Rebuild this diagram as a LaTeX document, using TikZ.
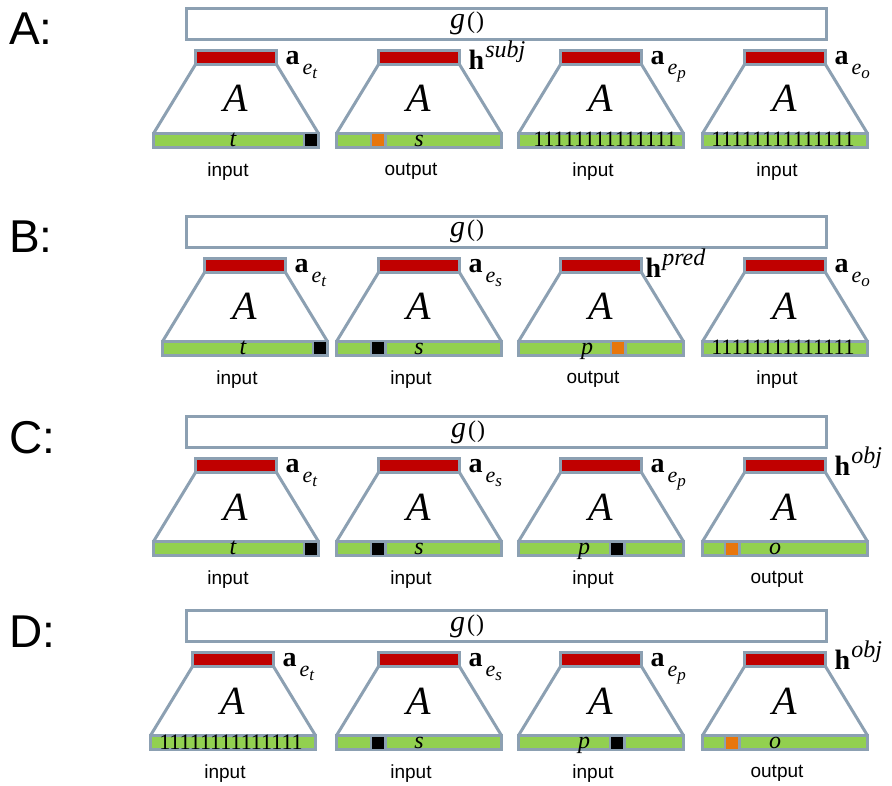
\documentclass[tikz,border=0pt]{standalone}
\usepackage{fontspec}
\setmainfont{Liberation Serif}
\newfontfamily\arial{Liberation Sans}
\usetikzlibrary{positioning}
\definecolor{edgegray}{RGB}{140,160,178}
\definecolor{topred}{RGB}{192,0,0}
\definecolor{bargreen}{RGB}{146,208,80}
\definecolor{outorange}{RGB}{232,118,12}
\tikzstyle{gbox}=[draw=edgegray, line width=3pt, minimum width=640pt, minimum height=31pt, inner sep=0pt, outer sep=0pt]
\tikzstyle{gtxt}=[anchor=base west, inner sep=0pt]
\tikzstyle{rowlbl}=[anchor=base west, inner sep=0pt, font=\arial\fontsize{46}{46}\selectfont]
\tikzstyle{redbar}=[draw=edgegray, fill=topred, line width=3pt, minimum width=81pt, minimum height=14pt, inner sep=0pt, outer sep=0pt]
\tikzstyle{greenbar}=[draw=edgegray, fill=bargreen, line width=3pt, minimum width=165pt, minimum height=14pt, inner sep=0pt, outer sep=0pt]
\tikzstyle{trap}=[draw=edgegray, line width=3pt]
\tikzstyle{bigA}=[anchor=base, inner sep=0pt, font=\fontsize{40}{40}\selectfont\itshape]
\tikzstyle{cell}=[draw=edgegray, line width=2.5pt, minimum size=14.5pt, inner sep=0pt, outer sep=0pt]
\tikzstyle{inbit}=[cell, fill=black]
\tikzstyle{outbit}=[cell, fill=outorange]
\tikzstyle{barlbl}=[anchor=base, inner sep=0pt, yshift=1pt, font=\fontsize{24}{24}\selectfont\itshape]
\tikzstyle{ones}=[anchor=base, inner sep=0pt, yshift=0.5pt, font=\fontsize{22}{22}\selectfont]
\tikzstyle{veclbl}=[anchor=base west, inner sep=0pt, font=\fontsize{28}{28}\selectfont]
\tikzstyle{iolbl}=[inner sep=0pt, font=\arial\fontsize{19}{19}\selectfont]
\newcommand{\gfun}{{\fontsize{30}{30}\selectfont\itshape g}\kern2pt{\fontsize{24}{24}\selectfont(\kern1pt)}}
\newcommand{\avec}[1]{\textbf{a}\kern3pt\raisebox{-10pt}{\fontsize{22}{22}\selectfont\itshape e\raisebox{-4pt}{\fontsize{17}{17}\selectfont #1}}}
\newcommand{\hvec}[1]{\textbf{h}\kern1pt\raisebox{12pt}{\fontsize{24}{24}\selectfont\itshape #1}}
% one encoder: name, x of centre, top of its row
\newcommand{\encoder}[3]{%
  \node[redbar] (#1r) at (#2,#3+50.5) {};
  \node[greenbar] (#1b) at (#2,#3+133.5) {};
  \node[bigA] at (#2,#3+105) {A};
  \path[trap] (#1r.south west) edge (#1b.north west)
              (#1r.south east) edge (#1b.north east);
}

\begin{document}
\begin{tikzpicture}[x=1pt,y=-1pt]
  \useasboundingbox (0,0) rectangle (892,786);

  % row A
  \node[rowlbl] at (9,45) {A:};
  \node[gbox] (Ag) at (506.5,24) {};
  \node[gtxt] at (450,29) {\gfun};
  \encoder{A1}{236}{7}
  \encoder{A2}{419}{7}
  \encoder{A3}{601}{7}
  \encoder{A4}{785}{7}
  \node[inbit, anchor=east] at (A1b.east) {};
  \node[barlbl] at ([xshift=-3pt]A1b.south) {t};
  \node[outbit] at ([xshift=-41pt]A2b) {};
  \node[barlbl] at (A2b.south) {s};
  \node[ones] at ([xshift=4pt]A3b.south) {11111111111111};
  \node[ones] at ([xshift=-2pt]A4b.south) {11111111111111};
  \node[veclbl] at ([xshift=9pt,yshift=0pt]A1r.south east) {\avec{t}};
  \node[veclbl] at ([xshift=9pt,yshift=-5pt]A2r.south east) {\hvec{subj}};
  \node[veclbl] at ([xshift=9pt,yshift=0pt]A3r.south east) {\avec{p}};
  \node[veclbl] at ([xshift=9pt,yshift=0pt]A4r.south east) {\avec{o}};
  \node[iolbl] at ([xshift=-8pt,yshift=-24pt]A1b.south) {input};
  \node[iolbl] at ([xshift=-8pt,yshift=-24pt]A2b.south) {output};
  \node[iolbl] at ([xshift=-8pt,yshift=-24pt]A3b.south) {input};
  \node[iolbl] at ([xshift=-8pt,yshift=-24pt]A4b.south) {input};

  % row B
  \node[rowlbl] at (9,253) {B:};
  \node[gbox] (Bg) at (506.5,232) {};
  \node[gtxt] at (450,237) {\gfun};
  \encoder{B1}{245}{215}
  \encoder{B2}{419}{215}
  \encoder{B3}{601}{215}
  \encoder{B4}{785}{215}
  \node[inbit, anchor=east] at (B1b.east) {};
  \node[barlbl] at ([xshift=-2pt]B1b.south) {t};
  \node[inbit] at ([xshift=-41pt]B2b) {};
  \node[barlbl] at (B2b.south) {s};
  \node[barlbl] at ([xshift=-14pt]B3b.south) {p};
  \node[outbit] at ([xshift=17pt]B3b) {};
  \node[ones] at ([xshift=-2pt]B4b.south) {11111111111111};
  \node[veclbl] at ([xshift=9pt,yshift=0pt]B1r.south east) {\avec{t}};
  \node[veclbl] at ([xshift=9pt,yshift=0pt]B2r.south east) {\avec{s}};
  \node[veclbl] at ([xshift=4pt,yshift=-5pt]B3r.south east) {\hvec{pred}};
  \node[veclbl] at ([xshift=9pt,yshift=0pt]B4r.south east) {\avec{o}};
  \node[iolbl] at ([xshift=-8pt,yshift=-24pt]B1b.south) {input};
  \node[iolbl] at ([xshift=-8pt,yshift=-24pt]B2b.south) {input};
  \node[iolbl] at ([xshift=-8pt,yshift=-24pt]B3b.south) {output};
  \node[iolbl] at ([xshift=-8pt,yshift=-24pt]B4b.south) {input};

  % row C
  \node[rowlbl] at (9,453) {C:};
  \node[gbox] (Cg) at (506.5,432) {};
  \node[gtxt] at (451,437) {\gfun};
  \encoder{C1}{236}{415}
  \encoder{C2}{419}{415}
  \encoder{C3}{601}{415}
  \encoder{C4}{785}{415}
  \node[inbit, anchor=east] at (C1b.east) {};
  \node[barlbl] at ([xshift=-3pt]C1b.south) {t};
  \node[inbit] at ([xshift=-41pt]C2b) {};
  \node[barlbl] at (C2b.south) {s};
  \node[barlbl] at ([xshift=-17pt]C3b.south) {p};
  \node[inbit] at ([xshift=16pt]C3b) {};
  \node[outbit] at ([xshift=-53pt]C4b) {};
  \node[barlbl] at ([xshift=-10pt]C4b.south) {o};
  \node[veclbl] at ([xshift=9pt,yshift=0pt]C1r.south east) {\avec{t}};
  \node[veclbl] at ([xshift=9pt,yshift=0pt]C2r.south east) {\avec{s}};
  \node[veclbl] at ([xshift=9pt,yshift=0pt]C3r.south east) {\avec{p}};
  \node[veclbl] at ([xshift=9pt,yshift=-3pt]C4r.south east) {\hvec{obj}};
  \node[iolbl] at ([xshift=-8pt,yshift=-24pt]C1b.south) {input};
  \node[iolbl] at ([xshift=-8pt,yshift=-24pt]C2b.south) {input};
  \node[iolbl] at ([xshift=-8pt,yshift=-24pt]C3b.south) {input};
  \node[iolbl] at ([xshift=-8pt,yshift=-24pt]C4b.south) {output};

  % row D
  \node[rowlbl] at (9,647) {D:};
  \node[gbox] (Dg) at (506.5,626) {};
  \node[gtxt] at (450,631) {\gfun};
  \encoder{D1}{233}{609}
  \encoder{D2}{419}{609}
  \encoder{D3}{601}{609}
  \encoder{D4}{785}{609}
  \node[ones] at ([xshift=-2pt]D1b.south) {11111111111111};
  \node[inbit] at ([xshift=-41pt]D2b) {};
  \node[barlbl] at (D2b.south) {s};
  \node[barlbl] at ([xshift=-17pt]D3b.south) {p};
  \node[inbit] at ([xshift=16pt]D3b) {};
  \node[outbit] at ([xshift=-53pt]D4b) {};
  \node[barlbl] at ([xshift=-10pt]D4b.south) {o};
  \node[veclbl] at ([xshift=9pt,yshift=0pt]D1r.south east) {\avec{t}};
  \node[veclbl] at ([xshift=9pt,yshift=0pt]D2r.south east) {\avec{s}};
  \node[veclbl] at ([xshift=9pt,yshift=0pt]D3r.south east) {\avec{p}};
  \node[veclbl] at ([xshift=9pt,yshift=-3pt]D4r.south east) {\hvec{obj}};
  \node[iolbl] at ([xshift=-8pt,yshift=-24pt]D1b.south) {input};
  \node[iolbl] at ([xshift=-8pt,yshift=-24pt]D2b.south) {input};
  \node[iolbl] at ([xshift=-8pt,yshift=-24pt]D3b.south) {input};
  \node[iolbl] at ([xshift=-8pt,yshift=-24pt]D4b.south) {output};
\end{tikzpicture}
\end{document}
